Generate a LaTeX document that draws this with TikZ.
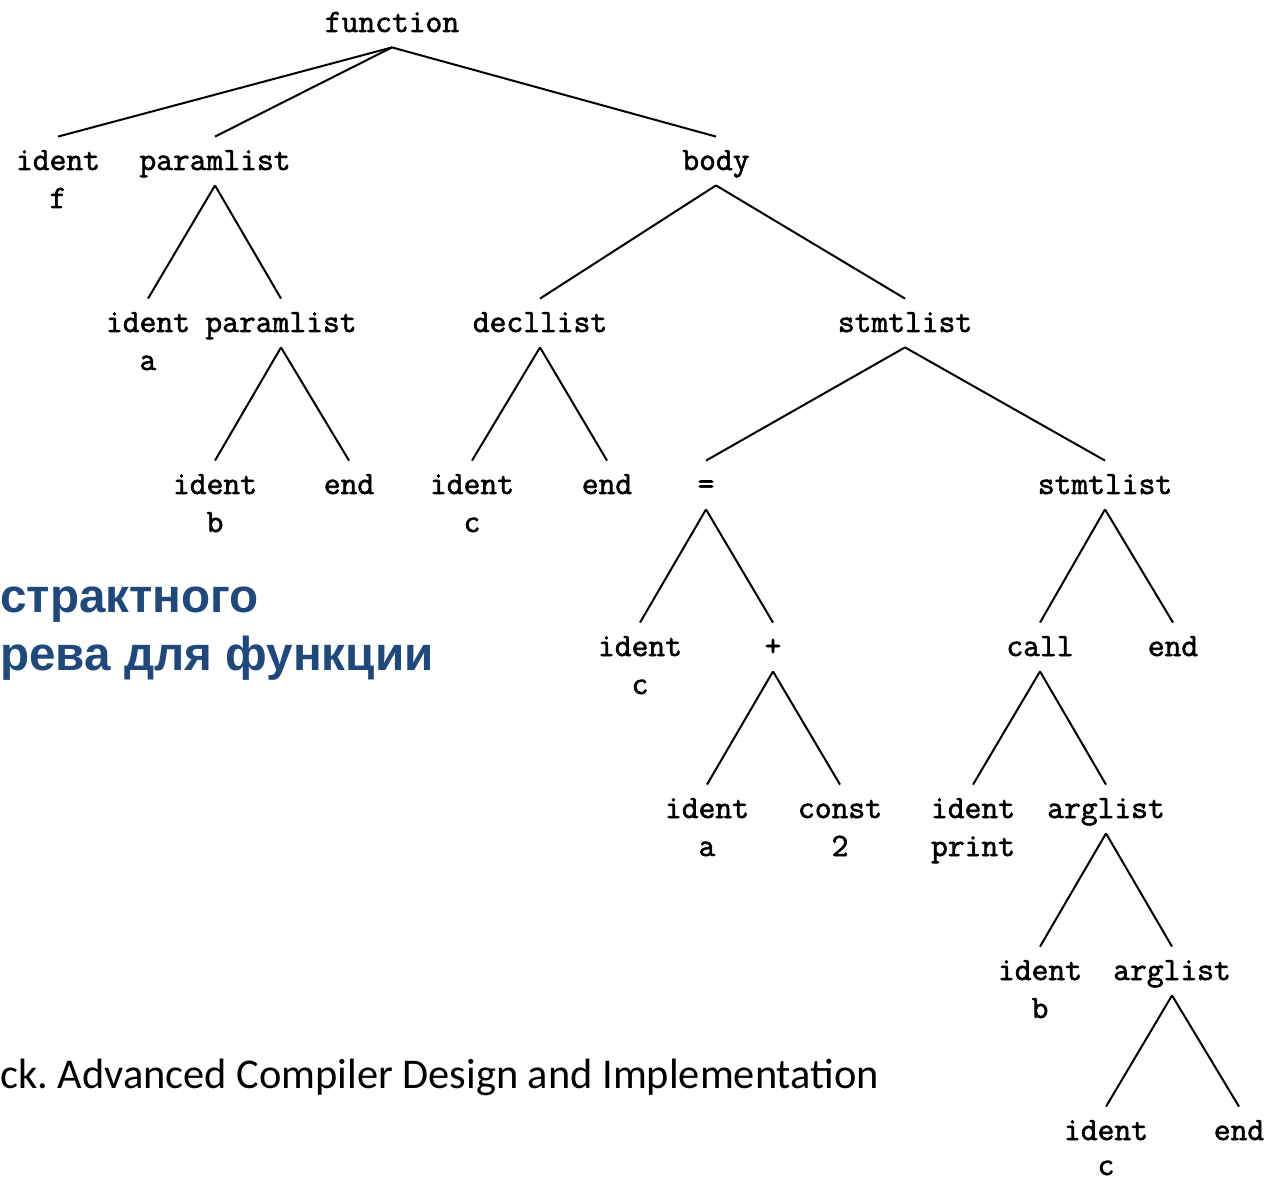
\documentclass[tikz,border=0pt]{standalone}
\usepackage{fontspec}
\setmonofont{Latin Modern Mono}[FakeBold=1.8]
\newfontfamily\headfont{Liberation Sans}
\newfontfamily\notefont{Carlito}
\definecolor{titleblue}{RGB}{31,73,125}

\begin{document}
\begin{tikzpicture}[x=0.5pt,y=-0.5pt,
  tn/.style={font=\ttfamily\fontsize{16.3}{19}\selectfont, inner sep=0pt,
             text height=16.5pt, text depth=7.5pt, anchor=base},
  val/.style={font=\ttfamily\fontsize{16.3}{19}\selectfont, inner sep=0pt, anchor=base},
  edge/.style={line width=1pt},
  title/.style={font=\headfont\bfseries\fontsize{23.8}{29}\selectfont, text=titleblue,
                inner sep=0pt, anchor=base west},
  note/.style={font=\notefont\fontsize{21.2}{26}\selectfont, inner sep=0pt, anchor=base west}]
\useasboundingbox (0,0) rectangle (1278,1181);

% syntax tree nodes, row by row
\node[tn] (fn) at (392,32) {function};

\node[tn] (id1) at (58,170) {ident};  \node[val] (id1v) at (58,208) {f};
\node[tn] (pl1) at (215,170) {paramlist};
\node[tn] (body) at (716,170) {body};

\node[tn] (id2) at (148,332) {ident}; \node[val] (id2v) at (148,370) {a};
\node[tn] (pl2) at (281,332) {paramlist};
\node[tn] (decl) at (540,332) {decllist};
\node[tn] (st1) at (905,332) {stmtlist};

\node[tn] (id3) at (215,494) {ident}; \node[val] (id3v) at (215,532) {b};
\node[tn] (end1) at (349,494) {end};
\node[tn] (id4) at (472,494) {ident}; \node[val] (id4v) at (472,532) {c};
\node[tn] (end2) at (607,494) {end};
\node[tn] (eq) at (706,494) {=};
\node[tn] (st2) at (1105,494) {stmtlist};

\node[tn] (id5) at (640,656) {ident}; \node[val] (id5v) at (640,694) {c};
\node[tn] (plus) at (773,656) {+};
\node[tn] (call) at (1040,656) {call};
\node[tn] (end3) at (1173,656) {end};

\node[tn] (id6) at (707,818) {ident}; \node[val] (id6v) at (707,856) {a};
\node[tn] (const) at (840,818) {const}; \node[val] (constv) at (840,856) {2};
\node[tn] (id7) at (973,818) {ident}; \node[val] (id7v) at (973,856) {print};
\node[tn] (al1) at (1106,818) {arglist};

\node[tn] (id8) at (1040,980) {ident}; \node[val] (id8v) at (1040,1018) {b};
\node[tn] (al2) at (1172,980) {arglist};

\node[tn] (id9) at (1106,1140) {ident}; \node[val] (id9v) at (1106,1175) {c};
\node[tn] (end4) at (1239,1140) {end};

% tree edges
\foreach \p/\c in {fn/id1, fn/pl1, fn/body,
                   pl1/id2, pl1/pl2, pl2/id3, pl2/end1,
                   body/decl, body/st1, decl/id4, decl/end2,
                   st1/eq, st1/st2, eq/id5, eq/plus, st2/call, st2/end3,
                   plus/id6, plus/const, call/id7, call/al1,
                   al1/id8, al1/al2, al2/id9, al2/end4}
  \draw[edge] (\p.south) -- (\c.north);

% caption and source line
\node[title] (cap1) at (0,612) {страктного};
\node[title] (cap2) at (0,670) {рева для функции};
\node[note] (src) at (0,1088) {ck.\ Advanced Compiler Design and Implementation};
\end{tikzpicture}
\end{document}
